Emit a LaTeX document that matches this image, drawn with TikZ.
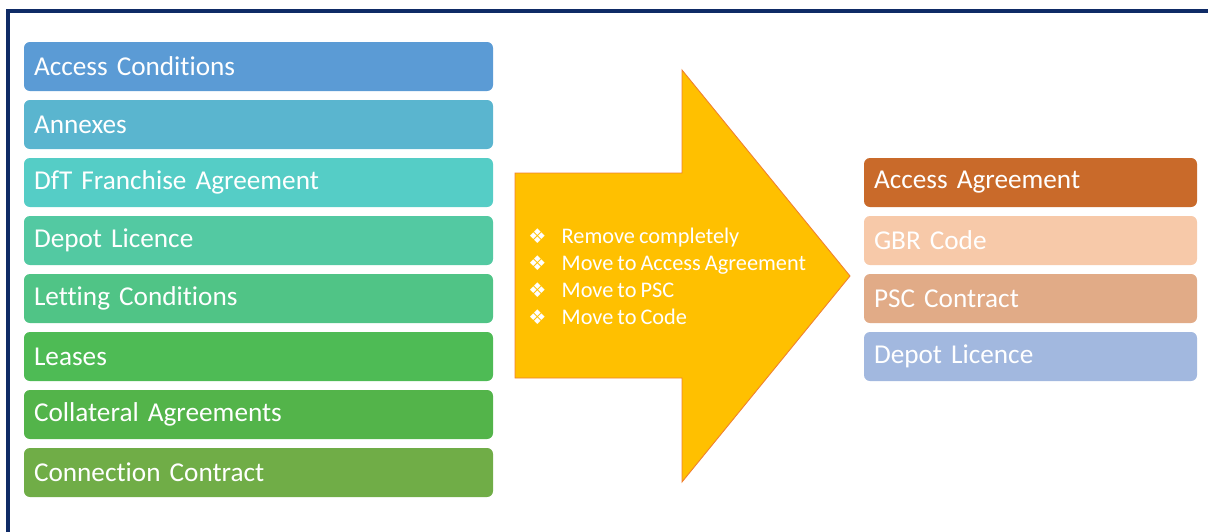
\documentclass[tikz,border=0pt]{standalone}
\usepackage{fontspec}
\setmainfont{Carlito}[Ligatures=NoCommon, WordSpace=0.8]
\newfontfamily\symfont{DejaVu Sans}
\usetikzlibrary{positioning}

\definecolor{navy}{HTML}{0F2B66}
\definecolor{arrowfill}{HTML}{FFC000}
\definecolor{arrowline}{HTML}{F08030}
% left column, blue into green
\definecolor{cA}{HTML}{5B9BD5}
\definecolor{cB}{HTML}{5AB5CF}
\definecolor{cC}{HTML}{55CDC6}
\definecolor{cD}{HTML}{53C9A2}
\definecolor{cE}{HTML}{50C486}
\definecolor{cF}{HTML}{4EBB55}
\definecolor{cG}{HTML}{53B44A}
\definecolor{cH}{HTML}{70AD47}
% right column
\definecolor{rA}{HTML}{C96A2A}
\definecolor{rB}{HTML}{F7C9A9}
\definecolor{rC}{HTML}{E1AB87}
\definecolor{rD}{HTML}{A2B8DF}

\newcommand{\blt}{\makebox[19pt][l]{\symfont\fontsize{11.5}{11}\selectfont ❖}}

\tikzset{
  box/.style={rounded corners=3.4pt, minimum height=0.98cm, inner xsep=0.2cm,
    inner ysep=0pt, outer sep=0pt, text=white, align=left,
    font=\fontsize{15.5}{18}\selectfont},
  leftbox/.style={box, minimum width=9.38cm, text width=8.98cm},
  rightbox/.style={box, minimum width=6.66cm, text width=6.26cm},
}

\begin{document}
\begin{tikzpicture}
\useasboundingbox (0,0) rectangle (24.16,-10.62);

\draw[navy, line width=1.8pt] (0.16,-10.7) -- (0.16,-0.22) -- (24.3,-0.22);

%Arrow in the middle:
\draw[fill=arrowfill, draw=arrowline, line width=0.5pt, line join=miter]
  (10.30,-3.46) -- (13.64,-3.46) -- (13.64,-1.40) -- (17.00,-5.52)
  -- (13.64,-9.64) -- (13.64,-7.56) -- (10.30,-7.56) -- cycle;
\node (steps) [anchor=north west, inner sep=0pt, text=white, align=left,
  font=\fontsize{12.7}{15.3}\selectfont] at (10.56,-4.55)
  {\blt Remove completely\\ \blt Move to Access Agreement\\
   \blt Move to PSC\\ \blt Move to Code};

%Left column:
\node (acccond) [leftbox, fill=cA, anchor=west] at (0.48,-1.33) {Access Conditions};
\node (annex) [leftbox, fill=cB, below=0.18cm of acccond] {Annexes};
\node (dft) [leftbox, fill=cC, below=0.18cm of annex] {DfT Franchise Agreement};
\node (depot) [leftbox, fill=cD, below=0.18cm of dft] {Depot Licence};
\node (letting) [leftbox, fill=cE, below=0.18cm of depot] {Letting Conditions};
\node (leases) [leftbox, fill=cF, below=0.18cm of letting] {Leases};
\node (collat) [leftbox, fill=cG, below=0.18cm of leases] {Collateral Agreements};
\node (connect) [leftbox, fill=cH, below=0.18cm of collat] {Connection Contract};

%Right column:
\node (accagr) [rightbox, fill=rA, anchor=west] at (17.28,-3.65) {Access Agreement};
\node (gbr) [rightbox, fill=rB, below=0.18cm of accagr] {GBR Code};
\node (psc) [rightbox, fill=rC, below=0.18cm of gbr] {PSC Contract};
\node (depotlic) [rightbox, fill=rD, below=0.18cm of psc] {Depot Licence};

\end{tikzpicture}
\end{document}
